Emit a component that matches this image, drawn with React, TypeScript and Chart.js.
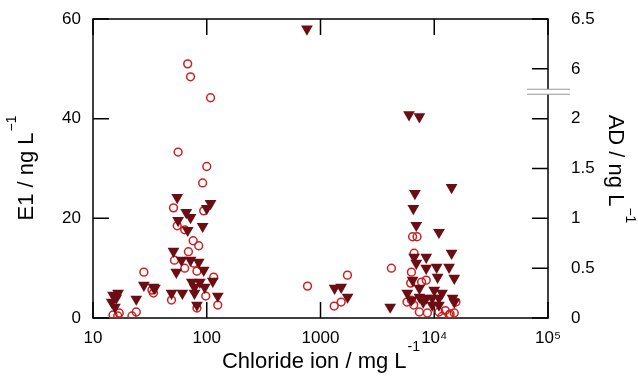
import React, { useEffect, useRef } from "react";
import { Chart, registerables } from "chart.js";

Chart.register(...registerables);

// ---- Data ----
// E1 (open red circles), left axis, ng/L
const chlorideE1 = [
  68, 72, 108, 56, 100, 92, 51, 94, 55, 64, 76, 85, 69, 52, 77, 64, 82, 28, 115, 34, 33, 49, 98, 125, 82, 24, 22, 15, 17, 16.5,
  769,
  1726, 1520, 1320, 4200, 6450, 7060, 6650, 6300, 8500, 7740, 6200, 6300, 5760, 6600, 7400, 8700, 11000, 11700, 13500, 15000,
  15500, 13800, 12500,
];
const e1Values = [
  51.0, 48.4, 44.2, 33.3, 30.4, 27.1, 22.1, 21.5, 18.5, 17.7, 15.5, 14.5, 13.3, 11.6, 11.0, 10.0, 9.4, 9.2, 8.2, 5.0, 5.6,
  3.6, 4.4, 2.6, 2.0, 1.2, 0.4, 0.6, 1.0, 0.4,
  6.4,
  8.6, 3.2, 2.4, 10.0, 16.3, 16.3, 13.0, 9.2, 7.6, 7.2, 7.0, 3.6, 3.2, 2.6, 1.2, 1.0, 1.2, 0.3, 0.6, 1.0,
  3.2, 0.8, 1.5,
];

// AD (filled dark-red down triangles), right axis, ng/L
const chlorideAD = [
  760,
  55, 66, 72, 108, 100, 56, 68, 92, 51, 60, 72, 85, 54, 94, 74, 87, 113, 78, 96, 61, 49, 78, 125, 82, 28, 34, 24, 15, 16.6,
  14.6, 15.6, 16, 35,
  6000, 7400, 14200, 6760, 6550, 6950, 11000, 14200, 8500, 6650, 6950, 8500, 10500, 13500, 15000, 10700, 6450, 7400, 10000,
  11700, 5800, 6300, 7400, 8500, 9600, 11000, 14500, 15000, 4100, 1330, 1520, 1730, 8000, 9600, 11000,
];
const adValues = [
  6.4,
  1.21, 1.06, 1.01, 1.15, 1.1, 0.98, 0.88, 0.92, 0.67, 0.58, 0.58, 0.56, 0.46, 0.48, 0.36, 0.36, 0.37, 0.31, 0.31, 0.25,
  0.25, 0.25, 0.22, 0.13, 0.33, 0.31, 0.19, 0.23, 0.25, 0.16, 0.11, 0.2, 0.3,
  2.04, 2.02, 1.31, 1.25, 1.1, 0.93, 0.86, 0.65, 0.61, 0.61, 0.55, 0.5, 0.51, 0.51, 0.4, 0.41, 0.38, 0.3, 0.28, 0.25, 0.25,
  0.18, 0.21, 0.2, 0.2, 0.2, 0.2, 0.16, 0.11, 0.3, 0.31, 0.21, 0.16, 0.13, 0.13,
];

// Tick labels
const xTickValues = [10, 100, 1000, 10000, 100000];
const xTickLabels = ["10", "100", "1000", "10\u2074", "10\u2075"];
const e1TickValues = [0, 20, 40, 60];
const adTickValues = [0, 0.5, 1, 1.5, 2, 6, 6.5];
const adTickLabels = ["0", "0.5", "1", "1.5", "2", "6", "6.5"];

// Right axis break: values between 2.25 and 5.75 are removed
const AD_BREAK_AT = 2.25;
const AD_BREAK_GAP = 3.5;
const adToAxis = (v: number) => (v > AD_BREAK_AT ? v - AD_BREAK_GAP : v);

const FONT = "'Liberation Sans', Arial, Helvetica, sans-serif";
const CIRCLE_COLOR = "#cc1f1f";
const TRI_COLOR = "#6b0d13";

function drawSupText(
  ctx: CanvasRenderingContext2D,
  main: string,
  sup: string,
  cx: number,
  cy: number,
  rotation: number,
  mainSize: number,
  supSize: number
) {
  ctx.save();
  ctx.translate(cx, cy);
  ctx.rotate(rotation);
  ctx.fillStyle = "#000";
  ctx.textBaseline = "alphabetic";
  ctx.font = `${mainSize}px ${FONT}`;
  const wMain = ctx.measureText(main).width;
  ctx.font = `${supSize}px ${FONT}`;
  const wSup = ctx.measureText(sup).width;
  const total = wMain + wSup;
  const x0 = -total / 2;
  const base = mainSize * 0.36;
  ctx.font = `${mainSize}px ${FONT}`;
  ctx.textAlign = "left";
  ctx.fillText(main, x0, base);
  ctx.font = `${supSize}px ${FONT}`;
  ctx.fillText(sup, x0 + wMain + 1, base - mainSize * 0.78);
  ctx.restore();
}

const noPad = (scale: any) => {
  scale.paddingTop = 0;
  scale.paddingBottom = 0;
  scale.paddingLeft = 0;
  scale.paddingRight = 0;
};

const framePlugin = {
  id: "frame",
  beforeDatasetsDraw(chart: any) {
    const { ctx, chartArea } = chart;
    const { left, right, top, bottom } = chartArea;
    const x = chart.scales.x;
    const y = chart.scales.y;
    const y2 = chart.scales.y2;
    const tl = 16;
    ctx.save();
    ctx.strokeStyle = "#000";
    ctx.lineWidth = 1.5;
    ctx.strokeRect(left, top, right - left, bottom - top);
    ctx.beginPath();
    xTickValues.forEach((v) => {
      const px = x.getPixelForValue(v);
      ctx.moveTo(px, bottom);
      ctx.lineTo(px, bottom - tl);
      ctx.moveTo(px, top);
      ctx.lineTo(px, top + tl);
    });
    e1TickValues.forEach((v) => {
      const py = y.getPixelForValue(v);
      ctx.moveTo(left, py);
      ctx.lineTo(left + tl, py);
    });
    adTickValues.forEach((v) => {
      const py = y2.getPixelForValue(adToAxis(v));
      ctx.moveTo(right, py);
      ctx.lineTo(right - tl, py);
    });
    ctx.stroke();
    ctx.restore();
  },
  afterDraw(chart: any) {
    const { ctx, chartArea } = chart;
    const { left, right, top, bottom } = chartArea;
    const y2 = chart.scales.y2;
    // axis break on the right axis
    const pb = y2.getPixelForValue(AD_BREAK_AT + 0.02);
    ctx.save();
    ctx.fillStyle = "#fff";
    ctx.fillRect(right - 21, pb - 2.5, 43, 5);
    ctx.strokeStyle = "#999";
    ctx.lineWidth = 1;
    ctx.beginPath();
    ctx.moveTo(right - 21, pb - 2.5);
    ctx.lineTo(right + 22, pb - 2.5);
    ctx.moveTo(right - 21, pb + 2.5);
    ctx.lineTo(right + 22, pb + 2.5);
    ctx.stroke();
    ctx.restore();

    // axis titles
    const cxArea = (left + right) / 2;
    const cyArea = (top + bottom) / 2;
    drawSupText(ctx, "Chloride ion / mg L", "-1", cxArea, 360, 0, 22, 14);
    drawSupText(ctx, "E1 / ng L", "\u22121", 25, cyArea, -Math.PI / 2, 22, 14);
    drawSupText(ctx, "AD / ng L", "\u22121", 617, cyArea, Math.PI / 2, 22, 14);
  },
};

export default function App() {
  const canvasRef = useRef<HTMLCanvasElement | null>(null);

  useEffect(() => {
    document.body.style.margin = "0";
    const canvas = canvasRef.current;
    if (!canvas) return;

    const e1Data = chlorideE1.map((c, i) => ({ x: c, y: e1Values[i] }));
    const adData = chlorideAD.map((c, i) => ({ x: c, y: adToAxis(adValues[i]) }));

    const chart = new Chart(canvas, {
      type: "scatter",
      data: {
        datasets: [
          {
            label: "AD",
            data: adData,
            yAxisID: "y2",
            pointStyle: "triangle",
            rotation: 180,
            radius: 6.8,
            backgroundColor: TRI_COLOR,
            borderColor: TRI_COLOR,
            borderWidth: 0,
            order: 1,
          } as any,
          {
            label: "E1",
            data: e1Data,
            yAxisID: "y",
            pointStyle: "circle",
            radius: 3.9,
            backgroundColor: "rgba(0,0,0,0)",
            borderColor: CIRCLE_COLOR,
            borderWidth: 1.5,
            order: 2,
          } as any,
        ],
      },
      options: {
        animation: false,
        responsive: false,
        maintainAspectRatio: false,
        events: [],
        layout: { padding: { top: 19, left: 0, right: 0, bottom: 0 } },
        plugins: {
          legend: { display: false },
          tooltip: { enabled: false },
          title: { display: false },
        },
        scales: {
          x: {
            type: "logarithmic",
            position: "bottom",
            min: 10,
            max: 100000,
            grid: { display: false, drawTicks: false },
            border: { display: false },
            afterBuildTicks: (scale: any) => {
              scale.ticks = xTickValues.map((v) => ({ value: v }));
            },
            afterFit: (scale: any) => {
              scale.height = 61;
              noPad(scale);
            },
            ticks: {
              autoSkip: false,
              maxRotation: 0,
              padding: 10,
              color: "#000",
              font: { family: FONT, size: 17 },
              callback: (value: any) => {
                const i = xTickValues.indexOf(Number(value));
                return i >= 0 ? xTickLabels[i] : "";
              },
            },
          },
          y: {
            type: "linear",
            position: "left",
            min: 0,
            max: 60,
            grid: { display: false, drawTicks: false },
            border: { display: false },
            afterBuildTicks: (scale: any) => {
              scale.ticks = e1TickValues.map((v) => ({ value: v }));
            },
            afterFit: (scale: any) => {
              scale.width = 93;
              noPad(scale);
            },
            ticks: {
              padding: 12,
              color: "#000",
              font: { family: FONT, size: 17 },
            },
          },
          y2: {
            type: "linear",
            position: "right",
            min: 0,
            max: 3,
            grid: { display: false, drawTicks: false },
            border: { display: false },
            afterBuildTicks: (scale: any) => {
              scale.ticks = adTickValues.map((v) => ({ value: adToAxis(v) }));
            },
            afterFit: (scale: any) => {
              scale.width = 90;
              noPad(scale);
            },
            ticks: {
              padding: 23,
              color: "#000",
              font: { family: FONT, size: 17 },
              callback: (value: any) => {
                const i = adTickValues.findIndex((v) => Math.abs(adToAxis(v) - Number(value)) < 1e-6);
                return i >= 0 ? adTickLabels[i] : "";
              },
            },
          },
        },
      },
      plugins: [framePlugin],
    });

    return () => {
      chart.destroy();
    };
  }, []);

  return (
    <div style={{ position: "absolute", left: 0, top: 0, width: 638, height: 379, background: "#fff" }}>
      <canvas ref={canvasRef} width={638} height={379} style={{ width: 638, height: 379, display: "block" }} />
    </div>
  );
}
